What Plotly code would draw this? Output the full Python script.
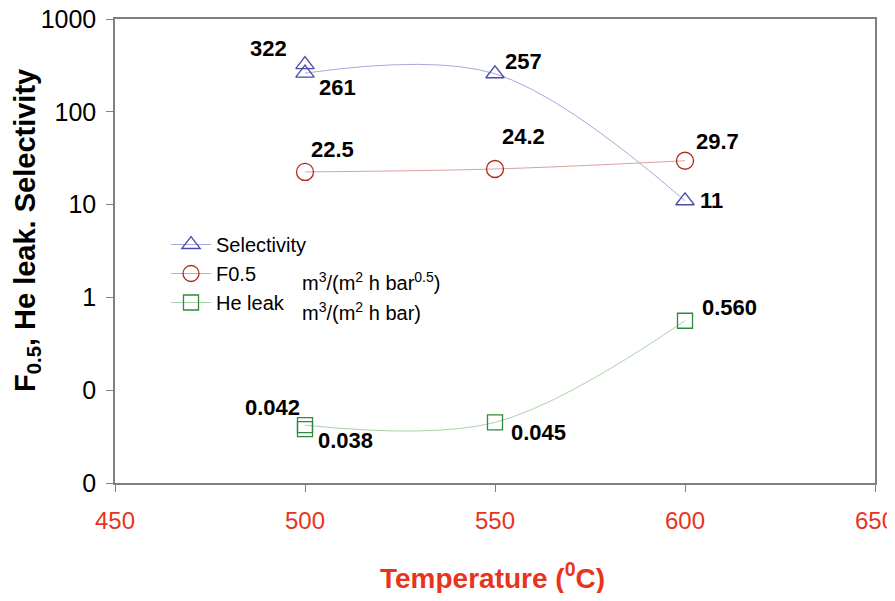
import plotly.graph_objects as go
import math

temps_sel = [500, 500, 550, 600]
selectivity = [322, 261, 257, 11]
temps_f = [500, 550, 600]
f05 = [22.5, 24.2, 29.7]
temps_he = [500, 500, 550, 600]
he_leak = [0.042, 0.038, 0.045, 0.560]

sel_labels = ["322", "261", "257", "11"]
f_labels = ["22.5", "24.2", "29.7"]
he_labels = ["0.042", "0.038", "0.045", "0.560"]

ytick_vals = [0.01, 0.1, 1, 10, 100, 1000]
ytick_text = ["0", "0", "1", "10", "100", "1000"]
xtick_vals = [450, 500, 550, 600, 650]

BLUE = "#4a4aa8"; BLUE_L = "#a8a8dc"
RED = "#b0281c"; RED_L = "#e0a0a0"
GREEN = "#2f8a3a"; GREEN_L = "#a8d4a8"

OFF = 8  # default page body margin
W, H = 895 - OFF, 601 - 2 * OFF
PL, PR, PT, PB = 115, 875, 19, 483  # plot area in page pixels
L, T = PL - OFF, PT - OFF
R, B = W - (PR - OFF), H - (PB - OFF)
PW, PH = PR - PL, PB - PT


def px(xp):
    return (xp - PL) / PW


def py(yp):
    return (PB - yp) / PH


fig = go.Figure()
fig.add_trace(go.Scatter(x=temps_sel[1:], y=selectivity[1:], mode="lines+markers", name="Selectivity",
                         line=dict(color=BLUE_L, width=1, shape="spline"),
                         marker=dict(symbol="triangle-up-open", size=16, color=BLUE, line=dict(width=1.3))))
fig.add_trace(go.Scatter(x=temps_sel[:1], y=selectivity[:1], mode="markers", showlegend=False,
                         marker=dict(symbol="triangle-up-open", size=16, color=BLUE, line=dict(width=1.3))))
fig.add_trace(go.Scatter(x=temps_f, y=f05, mode="lines+markers", name="F0.5",
                         line=dict(color=RED_L, width=1, shape="spline"),
                         marker=dict(symbol="circle-open", size=17, color=RED, line=dict(width=1.3))))
fig.add_trace(go.Scatter(x=[temps_he[0]] + temps_he[2:], y=[he_leak[0]] + he_leak[2:], mode="lines+markers", name="He leak",
                         line=dict(color=GREEN_L, width=1, shape="spline"),
                         marker=dict(symbol="square-open", size=15, color=GREEN, line=dict(width=1.3))))
fig.add_trace(go.Scatter(x=[temps_he[1]], y=[he_leak[1]], mode="markers", showlegend=False,
                         marker=dict(symbol="square-open", size=15, color=GREEN, line=dict(width=1.3))))

lab_font = dict(family="Liberation Sans, Arial", size=22, color="black")
sel_off = [(-37, 16), (32, -14), (28, 12), (26, 0)]
f_off = [(27, 22), (28, 32), (32, 19)]
he_off = [(-33, 18), (40, -11), (43, -10), (44, 13)]
for xs, ys, labs, offs in [(temps_sel, selectivity, sel_labels, sel_off),
                           (temps_f, f05, f_labels, f_off),
                           (temps_he, he_leak, he_labels, he_off)]:
    for xv, yv, t, (dx, dy) in zip(xs, ys, labs, offs):
        fig.add_annotation(x=xv, y=math.log10(yv), text="<b>%s</b>" % t, showarrow=False,
                           xshift=dx, yshift=dy, font=lab_font)

unit_font = dict(family="Liberation Sans, Arial", size=20, color="black")
fig.add_annotation(xref="paper", yref="paper", x=px(300), y=py(281),
                   text="m<sup>3</sup>/(m<sup>2</sup> h bar<sup>0.5</sup>)", showarrow=False,
                   xanchor="left", yanchor="middle", font=unit_font)
fig.add_annotation(xref="paper", yref="paper", x=px(300), y=py(311),
                   text="m<sup>3</sup>/(m<sup>2</sup> h bar)", showarrow=False,
                   xanchor="left", yanchor="middle", font=unit_font)

fig.add_annotation(xref="paper", yref="paper", x=px(492), y=py(576),
                   text="<b>Temperature (<sup>0</sup>C)</b>", showarrow=False,
                   xanchor="center", yanchor="middle",
                   font=dict(family="Liberation Sans, Arial", size=28, color="#e8341c"))
fig.add_annotation(xref="paper", yref="paper", x=px(27), y=py(231),
                   text="<b>F<sub>0.5</sub>, He leak. Selectivity</b>", showarrow=False, textangle=-90,
                   xanchor="center", yanchor="middle",
                   font=dict(family="Liberation Sans, Arial", size=29, color="black"))

fig.update_layout(
    width=W, height=H,
    margin=dict(l=L, r=R, t=T, b=B),
    paper_bgcolor="white", plot_bgcolor="white",
    font=dict(family="Liberation Sans, Arial", color="black"),
    showlegend=True,
    legend=dict(x=px(166), y=py(225), xanchor="left", yanchor="top",
                bgcolor="rgba(0,0,0,0)", font=dict(size=20, color="black"),
                tracegroupgap=0, itemwidth=40),
    xaxis=dict(range=[450, 650], tickvals=xtick_vals, ticks="outside", ticklen=7, tickcolor="#808080",
               showline=True, linecolor="#808080", linewidth=1.5, mirror=True, showgrid=False, zeroline=False,
               automargin=False, ticklabeloverflow="allow", ticklabelstandoff=8,
               tickfont=dict(size=24, color="#e8341c")),
    yaxis=dict(type="log", range=[-2, 3], tickvals=ytick_vals, ticktext=ytick_text,
               ticks="outside", ticklen=7, tickcolor="#808080",
               showline=True, linecolor="#808080", linewidth=1.5, mirror=True, showgrid=False, zeroline=False,
               automargin=False, ticklabeloverflow="allow", ticklabelstandoff=5,
               tickfont=dict(size=25, color="black")),
)

fig.write_html("out.html")
